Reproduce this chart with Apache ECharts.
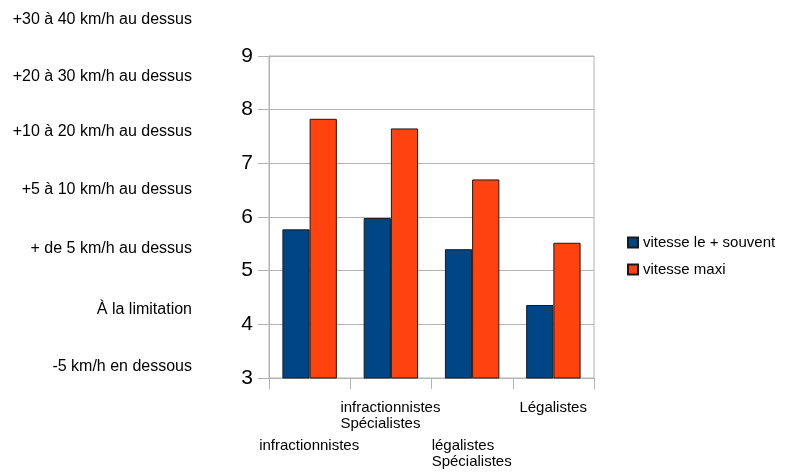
<!DOCTYPE html>
<html>
<head>
<meta charset="utf-8">
<title>Vitesse</title>
<script src="https://cdn.jsdelivr.net/npm/echarts@6/dist/echarts.min.js"></script>
<style>
  html, body { margin: 0; padding: 0; background: #fff; }
  #chart { width: 787px; height: 473px; }
</style>
</head>
<body>
<div id="chart"></div>
<script>
// Categories (x axis); a '\n' splits a label over two lines
const categories = ['infractionnistes', 'infractionnistes\nSpécialistes', 'légalistes\nSpécialistes', 'Légalistes'];
// Series values
const seriesNames = ['vitesse le + souvent', 'vitesse maxi'];
const usualSpeed = [5.77, 5.98, 5.40, 4.36];
const maxSpeed = [7.83, 7.65, 6.70, 5.52];
// Y axis range
const yMin = 3, yMax = 9, yStep = 1;
// Speed-band captions shown in the left column
const bandLabels = [
  '+30 à 40 km/h au dessus',
  '+20 à 30 km/h au dessus',
  '+10 à 20 km/h au dessus',
  '+5 à 10 km/h au dessus',
  '+ de 5 km/h au dessus',
  'À la limitation',
  '-5 km/h en dessous'
];
const bandLabelY = [20, 77, 132, 190, 249, 310, 367];

const FONT = '"Liberation Sans", Arial, sans-serif';
const CAT_FONT_SIZE = 15;

// width of the longest line of each category label, so lines can be left-aligned in a centred block
const measureCtx = document.createElement('canvas').getContext('2d');
measureCtx.font = CAT_FONT_SIZE + 'px ' + FONT;
function blockWidth(text) {
  return Math.ceil(Math.max(...text.split('\n').map(l => measureCtx.measureText(l).width)));
}
const rich = { sp: { lineHeight: 38, fontSize: 1 } };
categories.forEach((c, i) => {
  rich['c' + i] = {
    width: blockWidth(c), align: 'left',
    fontSize: CAT_FONT_SIZE, lineHeight: 16, color: '#000', fontFamily: FONT
  };
});

const chart = echarts.init(document.getElementById('chart'), null, { renderer: 'canvas' });

chart.setOption({
  animation: false,
  backgroundColor: '#fff',
  textStyle: { fontFamily: FONT },
  grid: {
    left: 269, right: 193, top: 56, bottom: 95,
    show: true, borderColor: '#b3b3b3', borderWidth: 1, backgroundColor: 'transparent'
  },
  legend: {
    orient: 'vertical',
    left: 622, top: 230,
    itemWidth: 10, itemHeight: 10, itemGap: 12,
    icon: 'rect',
    textStyle: { fontSize: 15, color: '#000', fontFamily: FONT },
    data: seriesNames
  },
  xAxis: {
    type: 'category',
    data: categories,
    axisLine: { lineStyle: { color: '#b3b3b3' } },
    axisTick: { show: true, length: 11, lineStyle: { color: '#b3b3b3' } },
    splitLine: { show: false },
    axisLabel: {
      interval: 0, margin: 22, verticalAlign: 'top',
      rich: rich,
      formatter: (value, idx) => {
        const body = value.split('\n').map(l => '{c' + idx + '|' + l + '}').join('\n');
        return idx % 2 === 0 ? '{sp| }\n' + body : body;
      }
    }
  },
  yAxis: {
    type: 'value',
    min: yMin, max: yMax, interval: yStep,
    axisLine: { show: true, lineStyle: { color: '#b3b3b3' } },
    axisTick: { show: true, length: 11, lineStyle: { color: '#b3b3b3' } },
    splitLine: { show: true, lineStyle: { color: '#b3b3b3', width: 1 } },
    axisLabel: { margin: 16, fontSize: 21, color: '#000', fontFamily: FONT }
  },
  graphic: bandLabels.map((t, i) => ({
    type: 'text',
    x: 192, y: bandLabelY[i],
    style: {
      text: t, fill: '#000', font: '16px ' + FONT,
      textAlign: 'right', textVerticalAlign: 'middle'
    }
  })),
  series: [
    {
      name: seriesNames[0], type: 'bar', data: usualSpeed,
      barGap: '0%', barCategoryGap: '33%',
      itemStyle: { color: '#004586', borderColor: '#1a1a1a', borderWidth: 1 }
    },
    {
      name: seriesNames[1], type: 'bar', data: maxSpeed,
      barGap: '0%', barCategoryGap: '33%',
      itemStyle: { color: '#ff420e', borderColor: '#1a1a1a', borderWidth: 1 }
    }
  ]
});
</script>
</body>
</html>
